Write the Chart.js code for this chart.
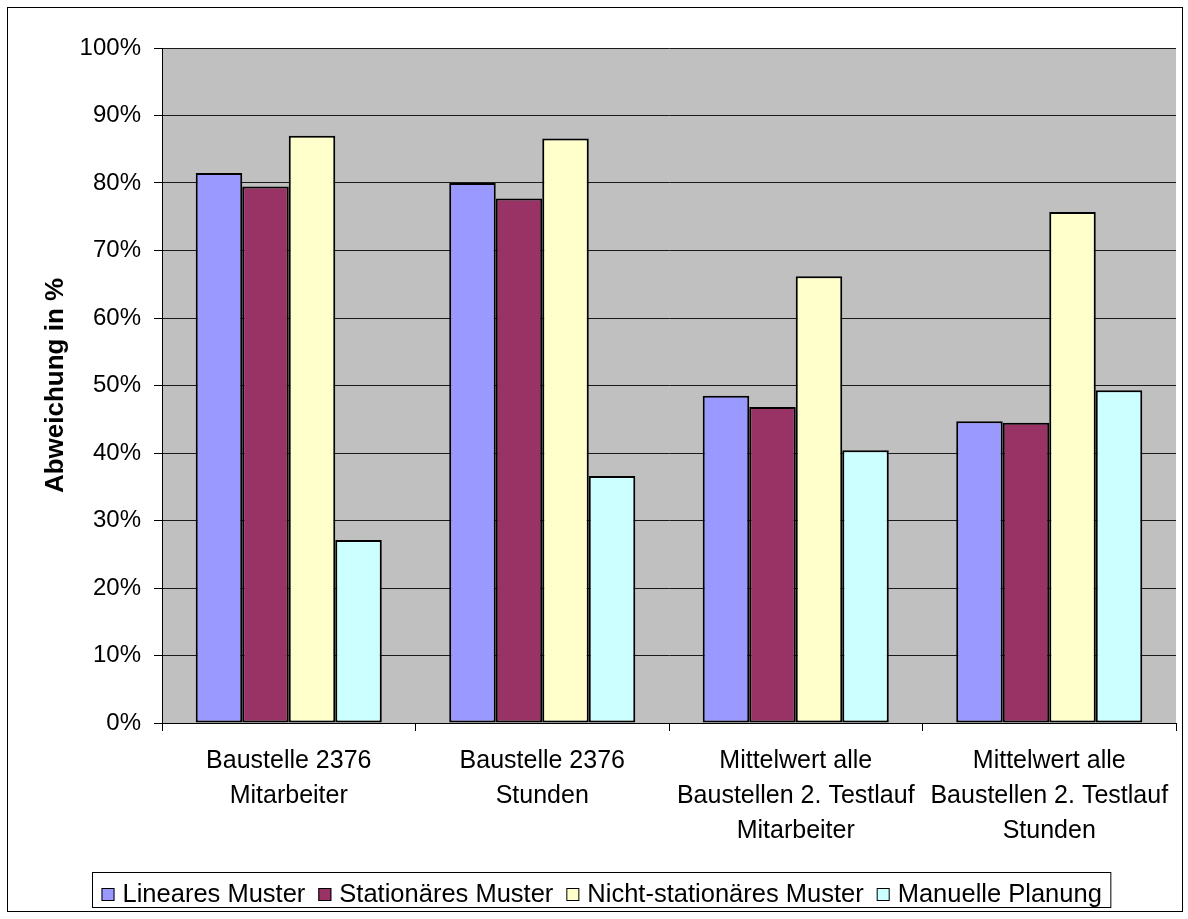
<!DOCTYPE html>
<html>
<head>
<meta charset="utf-8">
<title>Abweichung in %</title>
<script src="https://cdn.jsdelivr.net/npm/chart.js@4.4.1/dist/chart.umd.min.js"></script>
<style>
  html, body { margin: 0; padding: 0; background: #ffffff; }
  #wrap { width: 1188px; height: 919px; position: relative; }
</style>
</head>
<body>
<div id="wrap"><canvas id="c" width="1188" height="919"></canvas></div>
<script>
// Categories (multi-line labels) and series values in percent
const categories = [
  ['Baustelle 2376', 'Mitarbeiter'],
  ['Baustelle 2376', 'Stunden'],
  ['Mittelwert alle', 'Baustellen 2. Testlauf', 'Mitarbeiter'],
  ['Mittelwert alle', 'Baustellen 2. Testlauf', 'Stunden']
];
const linearesMuster      = [81.5, 80.0, 48.5, 44.7];
const stationaeresMuster  = [79.5, 77.7, 46.8, 44.5];
const nichtStationaer     = [87.0, 86.6, 66.2, 75.7];
const manuellePlanung     = [27.1, 36.6, 40.4, 49.3];
const seriesNames = ['Lineares Muster', 'Stationäres Muster', 'Nicht-stationäres Muster', 'Manuelle Planung'];
const seriesColors = ['#9999FF', '#993366', '#FFFFCC', '#CCFFFF'];
const yTicks = [0, 10, 20, 30, 40, 50, 60, 70, 80, 90, 100];

const FONT = '"Liberation Sans", Arial, sans-serif';

// Grey plot background
const plotBackground = {
  id: 'plotBackground',
  beforeDraw(chart) {
    const { ctx, chartArea: a } = chart;
    ctx.save();
    ctx.fillStyle = '#ffffff';
    ctx.fillRect(0, 0, chart.width, chart.height);
    ctx.fillStyle = '#C0C0C0';
    ctx.fillRect(a.left, a.top, a.right - a.left, a.bottom - a.top);
    ctx.restore();
  }
};

// Outer frame and boxed legend at the bottom
const frameAndLegend = {
  id: 'frameAndLegend',
  afterDraw(chart) {
    const ctx = chart.ctx;
    ctx.save();
    ctx.strokeStyle = '#000';
    ctx.lineWidth = 1;
    ctx.strokeRect(7.5, 7.5, 1175, 904);

    const fontSize = 25.5;
    ctx.font = fontSize + 'px ' + FONT;
    ctx.textBaseline = 'alphabetic';
    ctx.textAlign = 'left';
    const sq = 13, gapText = 8, gapItem = 13;
    const items = chart.data.datasets.map(d => ({ label: d.label, color: d.backgroundColor, w: ctx.measureText(d.label).width }));
    let total = 0;
    items.forEach((it, i) => { total += sq + gapText + it.w + (i < items.length - 1 ? gapItem : 0); });
    const boxPad = 9;
    const boxW = total + boxPad * 2;
    const boxLeft = Math.round((chart.width - boxW) / 2) + 7.5;
    const boxTop = 872.5, boxH = 35;
    ctx.strokeRect(boxLeft, boxTop, boxW, boxH);
    const baseline = 901.5;
    let x = boxLeft + boxPad;
    items.forEach(it => {
      ctx.fillStyle = it.color;
      ctx.fillRect(x, 888, sq, sq);
      ctx.strokeStyle = '#000';
      ctx.strokeRect(x + 0.5, 888.5, sq - 1, sq - 1);
      ctx.fillStyle = '#000';
      ctx.fillText(it.label, x + sq + gapText, baseline);
      x += sq + gapText + it.w + gapItem;
    });
    ctx.restore();
  }
};

const seriesData = [linearesMuster, stationaeresMuster, nichtStationaer, manuellePlanung];

new Chart(document.getElementById('c'), {
  type: 'bar',
  data: {
    labels: categories,
    datasets: seriesData.map((vals, i) => ({
      label: seriesNames[i],
      data: vals,
      backgroundColor: seriesColors[i],
      borderColor: '#000000',
      borderWidth: 2,
      borderSkipped: false,
      categoryPercentage: 4 / 5.45,
      barPercentage: 1.0
    }))
  },
  options: {
    responsive: false,
    animation: false,
    devicePixelRatio: 1,
    layout: { padding: { left: 0, top: 48, right: 12, bottom: 73 } },
    plugins: {
      legend: { display: false },
      tooltip: { enabled: false },
      title: { display: false }
    },
    scales: {
      x: {
        offset: true,
        grid: {
          offset: true,
          drawOnChartArea: false,
          drawTicks: true,
          tickLength: 8,
          tickColor: '#000',
          color: '#000'
        },
        border: { display: true, color: '#000', width: 1 },
        ticks: {
          color: '#000',
          padding: 13,
          maxRotation: 0,
          autoSkip: false,
          font: { family: FONT, size: 25, lineHeight: 1.4 }
        },
        afterFit(scale) { scale.height = 123; }
      },
      y: {
        min: 0,
        max: 100,
        afterBuildTicks(scale) { scale.ticks = yTicks.map(v => ({ value: v })); },
        grid: {
          color: '#1a1a1a',
          lineWidth: 1,
          drawTicks: true,
          tickLength: 8,
          tickColor: '#000'
        },
        border: { display: true, color: '#000', width: 1 },
        ticks: {
          color: '#000',
          padding: 13,
          font: { family: FONT, size: 24 },
          callback: v => v + '%'
        },
        title: {
          display: true,
          text: 'Abweichung in %',
          color: '#000',
          font: { family: FONT, size: 26, weight: 'bold', lineHeight: 1.2 },
          padding: { top: 40, bottom: 0 }
        },
        afterFit(scale) { scale.width = 162; }
      }
    }
  },
  plugins: [plotBackground, frameAndLegend]
});
</script>
</body>
</html>
